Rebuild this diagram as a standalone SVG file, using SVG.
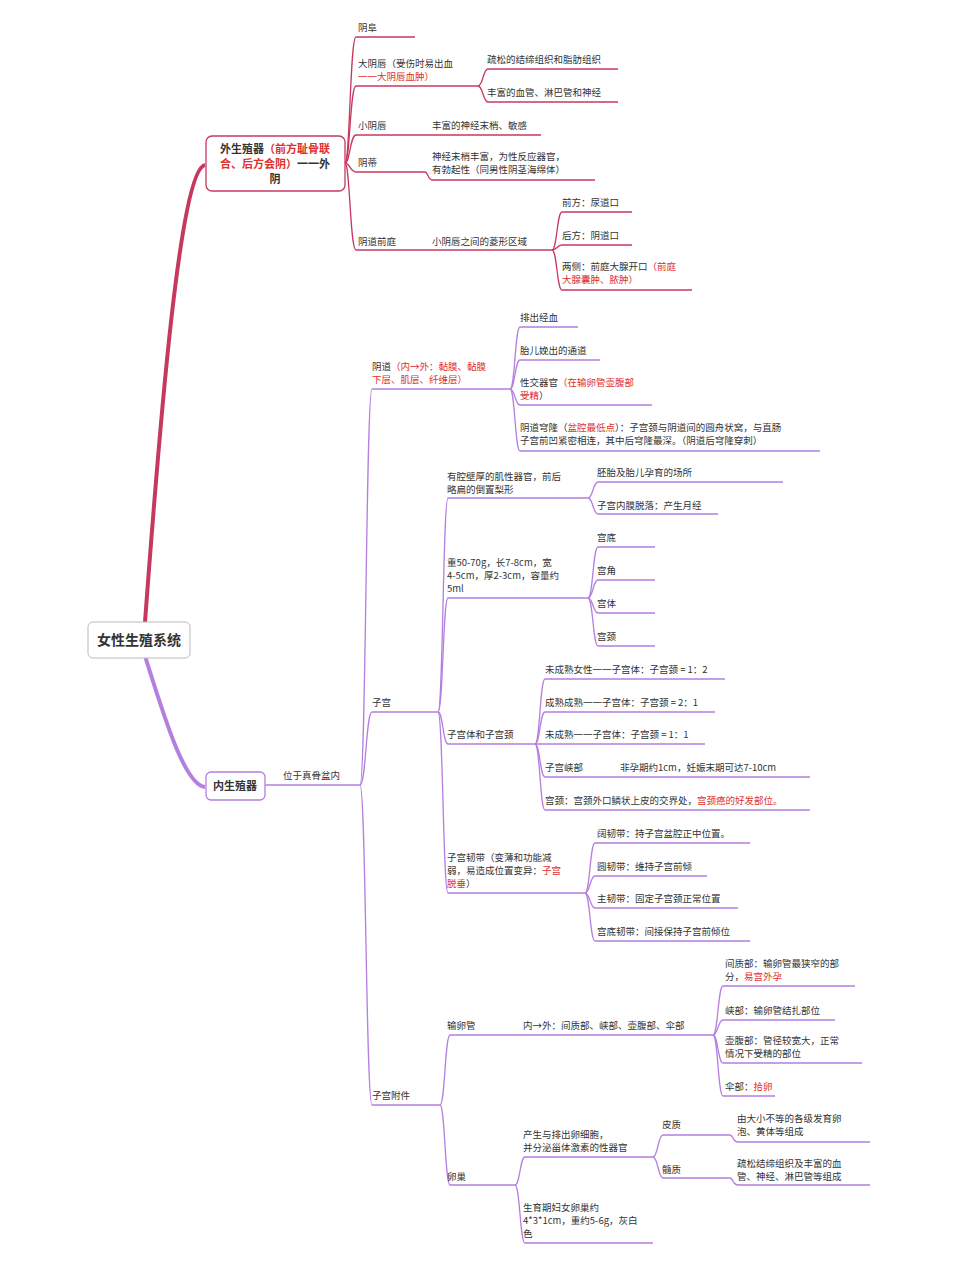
<svg xmlns="http://www.w3.org/2000/svg" width="959" height="1280" viewBox="0 0 959 1280">
<style>
text{font-family:"Noto Sans CJK SC","Noto Sans",sans-serif;font-size:9.5px;fill:#333}
.r{fill:#e0302e}
.b{font-weight:bold;font-size:11px}
.lr{fill:none;stroke:#c7385f;stroke-width:1.3}
.lp{fill:none;stroke:#b47fe0;stroke-width:1.3}
</style>
<rect width="959" height="1280" fill="#fff"/>
<g id="connectors">
<path d="M145,622 C160,420 180,170 205,165" fill="none" stroke="#c7385f" stroke-width="4"/>
<path d="M145,656 C165,720 185,785 205,787" fill="none" stroke="#b47fe0" stroke-width="4"/>
<g class="lr">
<path d="M345,163 C350,163 350,37 356,37 L415,37"/>
<path d="M345,163 C350,163 350,86 356,86 L478,86"/>
<path d="M345,163 C350,163 350,135 356,135 L541,135"/>
<path d="M345,163 C350,163 350,172 356,172 L425,172 C428,172 428,180 432,180 L595,180"/>
<path d="M345,163 C350,163 350,250 356,250 L552,250"/>
<path d="M478,86 C483,86 483,69 488,69 L618,69"/>
<path d="M478,86 C483,86 483,102 488,102 L618,102"/>
<path d="M552,250 C557,250 557,212 562,212 L632,212"/>
<path d="M552,250 C557,250 557,245 562,245 L632,245"/>
<path d="M552,250 C557,250 557,290 562,290 L692,290"/>
</g>
<g class="lp">
<path d="M265,785 L360,785"/>
<path d="M360,785 C366,785 366,389 372,389 L510,389"/>
<path d="M360,785 C366,785 366,712 372,712 L438,712"/>
<path d="M360,785 C366,785 366,1105 372,1105 L440,1105"/>
<path d="M510,389 C515,389 515,327 520,327 L578,327"/>
<path d="M510,389 C515,389 515,360 520,360 L600,360"/>
<path d="M510,389 C515,389 515,405 520,405 L652,405"/>
<path d="M510,389 C515,389 515,451 520,451 L820,451"/>
<path d="M438,712 C443,712 443,498 448,498 L588,498"/>
<path d="M438,712 C443,712 443,598 448,598 L588,598"/>
<path d="M438,712 C443,712 443,744 448,744 L535,744"/>
<path d="M438,712 C443,712 443,893 448,893 L585,893"/>
<path d="M588,498 C593,498 593,482 598,482 L783,482"/>
<path d="M588,498 C593,498 593,514 598,514 L718,514"/>
<path d="M588,598 C593,598 593,547 598,547 L655,547"/>
<path d="M588,598 C593,598 593,580 598,580 L655,580"/>
<path d="M588,598 C593,598 593,613 598,613 L655,613"/>
<path d="M588,598 C593,598 593,646 598,646 L655,646"/>
<path d="M535,744 C540,744 540,679 545,679 L725,679"/>
<path d="M535,744 C540,744 540,712 545,712 L715,712"/>
<path d="M535,744 L705,744"/>
<path d="M535,744 C540,744 540,777 545,777 L810,777"/>
<path d="M535,744 C540,744 540,810 545,810 L810,810"/>
<path d="M585,893 C590,893 590,843 595,843 L750,843"/>
<path d="M585,893 C590,893 590,876 595,876 L707,876"/>
<path d="M585,893 C590,893 590,908 595,908 L738,908"/>
<path d="M585,893 C590,893 590,941 595,941 L750,941"/>
<path d="M440,1105 C445,1105 445,1035 450,1035 L713,1035"/>
<path d="M440,1105 C445,1105 445,1185 450,1185 L515,1185"/>
<path d="M713,1035 C718,1035 718,986 723,986 L855,986"/>
<path d="M713,1035 C718,1035 718,1020 723,1020 L835,1020"/>
<path d="M713,1035 C718,1035 718,1063 723,1063 L862,1063"/>
<path d="M713,1035 C718,1035 718,1096 723,1096 L775,1096"/>
<path d="M515,1185 C520,1185 520,1157 525,1157 L653,1157"/>
<path d="M515,1185 C520,1185 520,1243 525,1243 L653,1243"/>
<path d="M653,1157 C658,1157 658,1135 663,1135 L730,1135 C733,1135 733,1142 738,1142 L870,1142"/>
<path d="M653,1157 C658,1157 658,1178 663,1178 L730,1178 C733,1178 733,1185 738,1185 L870,1185"/>
</g>
</g>
<g id="root"><rect x="88" y="622" width="102" height="36" rx="5" fill="#fff" stroke="#bbb"/><text x="139" y="645" text-anchor="middle" style="font-size:14px;font-weight:bold">女性生殖系统</text></g>
<g id="n-waisheng"><rect x="206" y="136" width="139" height="55" rx="6" fill="#fff" stroke="#c7385f" stroke-width="1.3"/>
<text x="275" y="153" text-anchor="middle" class="b">外生殖器<tspan class="r">（前方耻骨联</tspan></text>
<text x="275" y="168" text-anchor="middle" class="b"><tspan class="r">合、后方会阴）</tspan>一一外</text>
<text x="275" y="183" text-anchor="middle" class="b">阴</text></g>
<g id="n-neisheng"><rect x="206" y="772" width="59" height="28" rx="5" fill="#fff" stroke="#b47fe0" stroke-width="1.3"/><text x="235" y="790" text-anchor="middle" class="b">内生殖器</text></g>
<g id="top-texts">
<text x="358" y="31">阴阜</text>
<text x="358" y="67">大阴唇（受伤时易出血</text><text x="358" y="80" class="r">一一大阴唇血肿）</text>
<text x="487" y="63">疏松的结缔组织和脂肪组织</text>
<text x="487" y="96">丰富的血管、淋巴管和神经</text>
<text x="358" y="129">小阴唇</text><text x="432" y="129">丰富的神经末梢、敏感</text>
<text x="358" y="166">阴蒂</text>
<text x="432" y="160">神经末梢丰富，为性反应器官，</text><text x="432" y="173">有勃起性（同男性阴茎海绵体）</text>
<text x="358" y="245">阴道前庭</text><text x="432" y="245">小阴唇之间的菱形区域</text>
<text x="562" y="206">前方：尿道口</text>
<text x="562" y="239">后方：阴道口</text>
<text x="562" y="270">两侧：前庭大腺开口<tspan class="r">（前庭</tspan></text><text x="562" y="283" class="r">大腺囊肿、脓肿）</text>
</g>
<g id="bottom-texts">
<text x="283" y="779">位于真骨盆内</text>
<text x="372" y="370">阴道<tspan class="r">（内→外：黏膜、黏膜</tspan></text><text x="372" y="383" class="r">下层、肌层、纤维层）</text>
<text x="520" y="321">排出经血</text>
<text x="520" y="354">胎儿娩出的通道</text>
<text x="520" y="386">性交器官<tspan class="r">（在输卵管壶腹部</tspan></text><text x="520" y="399"><tspan class="r">受精</tspan>）</text>
<text x="520" y="431">阴道穹隆（<tspan class="r">盆腔最低点</tspan>）：子宫颈与阴道间的圆舟状窝，与直肠</text>
<text x="520" y="444">子宫前凹紧密相连，其中后穹隆最深。（阴道后穹隆穿刺）</text>
<text x="372" y="706">子宫</text>
<text x="447" y="480">有腔壁厚的肌性器官，前后</text><text x="447" y="493">略扁的倒置梨形</text>
<text x="597" y="476">胚胎及胎儿孕育的场所</text>
<text x="597" y="509">子宫内膜脱落：产生月经</text>
<text x="447" y="566">重50-70g，长7-8cm，宽</text><text x="447" y="579">4-5cm，厚2-3cm，容量约</text><text x="447" y="592">5ml</text>
<text x="597" y="541">宫底</text><text x="597" y="574">宫角</text><text x="597" y="607">宫体</text><text x="597" y="640">宫颈</text>
<text x="447" y="738">子宫体和子宫颈</text>
<text x="545" y="673">未成熟女性一一子宫体：子宫颈 = 1：2</text>
<text x="545" y="706">成熟成熟一一子宫体：子宫颈 = 2：1</text>
<text x="545" y="738">未成熟一一子宫体：子宫颈 = 1：1</text>
<text x="545" y="771">子宫峡部</text><text x="620" y="771">非孕期约1cm，妊娠末期可达7-10cm</text>
<text x="545" y="804">宫颈：宫颈外口鳞状上皮的交界处，<tspan class="r">宫颈癌的好发部位。</tspan></text>
<text x="447" y="861">子宫韧带（变薄和功能减</text><text x="447" y="874">弱，易造成位置变异：<tspan class="r">子宫</tspan></text><text x="447" y="887"><tspan class="r">脱垂</tspan>）</text>
<text x="597" y="837">阔韧带：持子宫盆腔正中位置。</text>
<text x="597" y="870">圆韧带：维持子宫前倾</text>
<text x="597" y="902">主韧带：固定子宫颈正常位置</text>
<text x="597" y="935">宫底韧带：间接保持子宫前倾位</text>
<text x="372" y="1099">子宫附件</text>
<text x="447" y="1029">输卵管</text><text x="523" y="1029">内→外：间质部、峡部、壶腹部、伞部</text>
<text x="725" y="967">间质部：输卵管最狭窄的部</text><text x="725" y="980">分，<tspan class="r">易宫外孕</tspan></text>
<text x="725" y="1014">峡部：输卵管结扎部位</text>
<text x="725" y="1044">壶腹部：管径较宽大，正常</text><text x="725" y="1057">情况下受精的部位</text>
<text x="725" y="1090">伞部：<tspan class="r">拾卵</tspan></text>
<text x="447" y="1180">卵巢</text>
<text x="523" y="1138">产生与排出卵细胞，</text><text x="523" y="1151">并分泌甾体激素的性器官</text>
<text x="523" y="1211">生育期妇女卵巢约</text><text x="523" y="1224">4*3*1cm，重约5-6g，灰白</text><text x="523" y="1237">色</text>
<text x="662" y="1128">皮质</text><text x="662" y="1173">髓质</text>
<text x="737" y="1122">由大小不等的各级发育卵</text><text x="737" y="1135">泡、黄体等组成</text>
<text x="737" y="1167">疏松结缔组织及丰富的血</text><text x="737" y="1180">管、神经、淋巴管等组成</text>
</g>
</svg>
